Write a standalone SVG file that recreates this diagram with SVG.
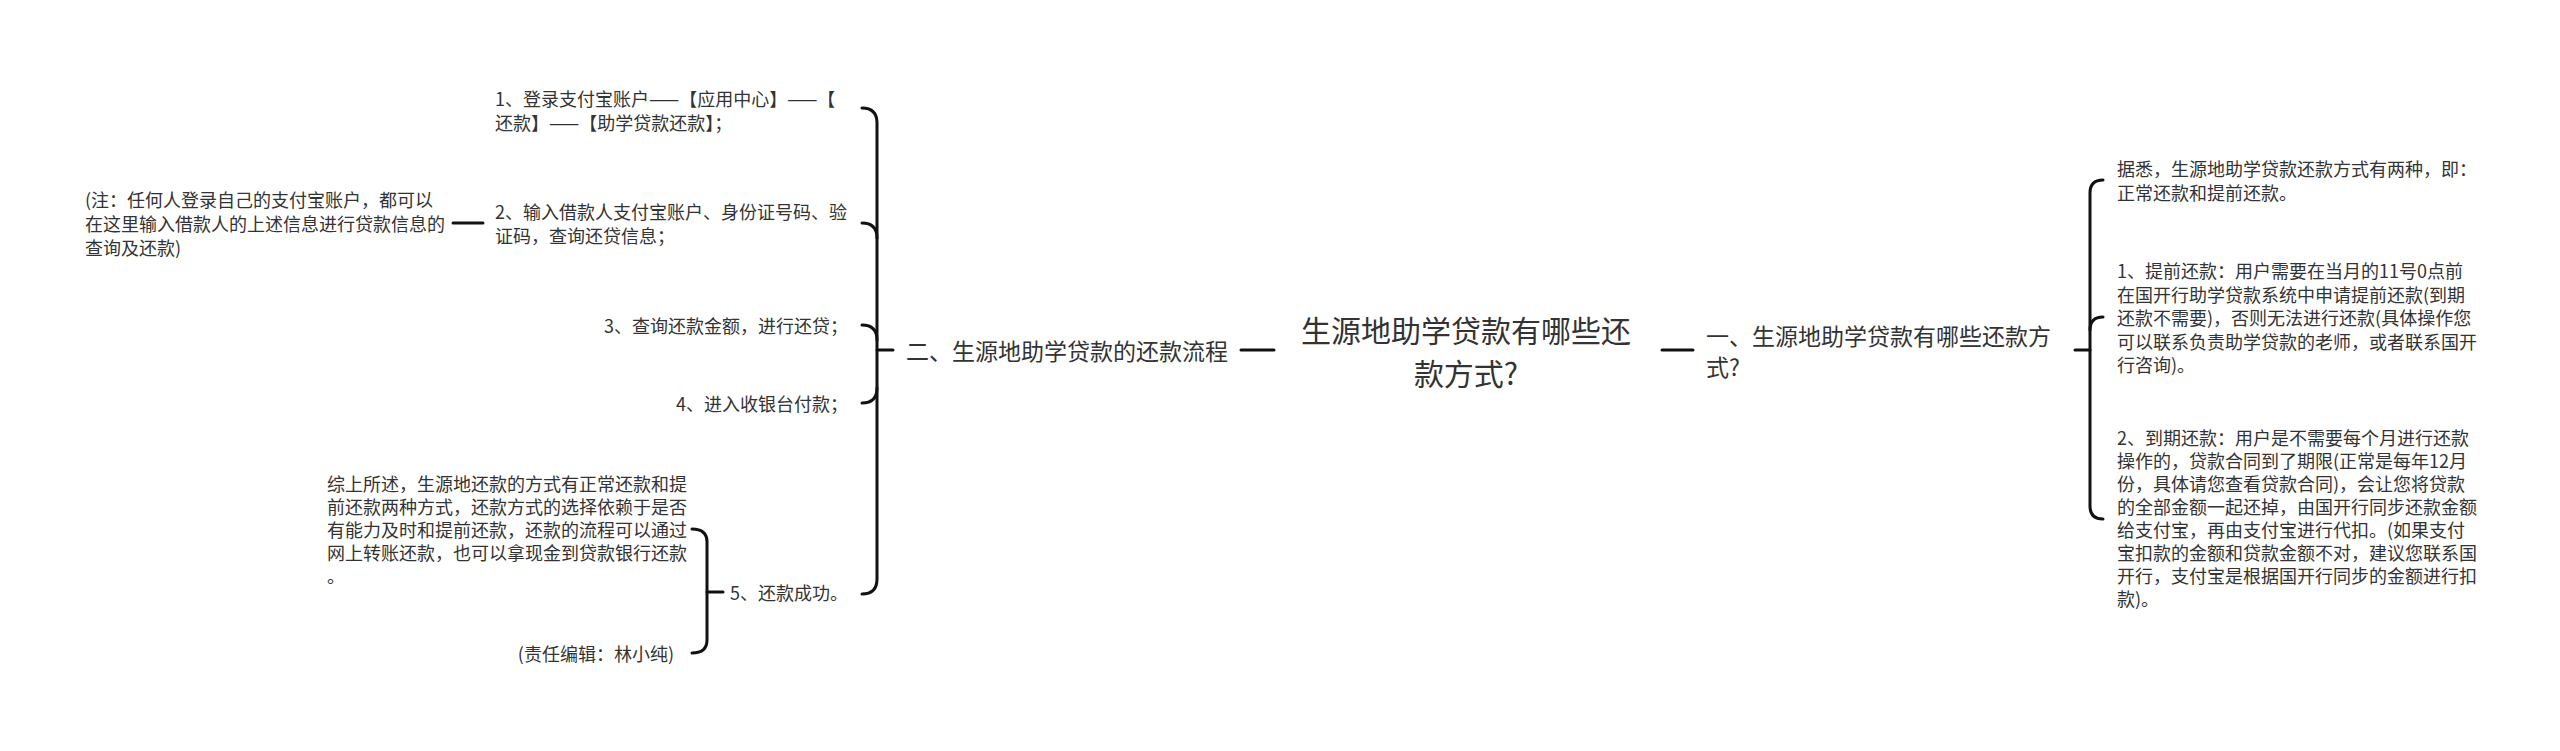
<svg xmlns="http://www.w3.org/2000/svg" width="2560" height="751" viewBox="0 0 2560 751">
<style>
text{font-family:"Noto Sans CJK SC","Microsoft YaHei",sans-serif;fill:#333;dominant-baseline:central}
.t{font-size:18px}
.m{font-size:23px}
.c{font-size:30px}
.ln{fill:none;stroke:#111;stroke-width:3;stroke-linecap:round}
</style>
<rect width="2560" height="751" fill="#fff"/>
<g id="connectors">
<path class="ln" d="M1241,350H1274"/>
<path class="ln" d="M1662,350H1693"/>
<path class="ln" d="M893,350H877"/>
<path class="ln" d="M862,108Q877,108 877,123V579Q877,594 862,594"/>
<path class="ln" d="M862,223Q877,223 877,238"/>
<path class="ln" d="M862,325Q877,325 877,340"/>
<path class="ln" d="M862,403Q877,403 877,388"/>
<path class="ln" d="M453,223H483"/>
<path class="ln" d="M723,592H707"/>
<path class="ln" d="M692,529Q707,529 707,542V640Q707,653 692,653"/>
<path class="ln" d="M2075,350H2090"/>
<path class="ln" d="M2103,180Q2090,180 2090,193V506Q2090,519 2103,519"/>
<path class="ln" d="M2103,317Q2090,317 2090,330"/>
</g>
<g id="center">
<text class="c" x="1466" y="329" text-anchor="middle">生源地助学贷款有哪些还</text>
<text class="c" x="1466" y="372" text-anchor="middle">款方式?</text>
</g>
<g id="left-main">
<text class="m" x="906" y="350">二、生源地助学贷款的还款流程</text>
</g>
<g id="right-main">
<text class="m" x="1706" y="335">一、生源地助学贷款有哪些还款方</text>
<text class="m" x="1706" y="366">式?</text>
</g>
<g id="step1">
<text class="t" x="495" y="98">1、登录支付宝账户——【应用中心】——【</text>
<text class="t" x="495" y="122">还款】——【助学贷款还款】；</text>
</g>
<g id="step2">
<text class="t" x="495" y="211">2、输入借款人支付宝账户、身份证号码、验</text>
<text class="t" x="495" y="235">证码，查询还贷信息；</text>
</g>
<g id="note">
<text class="t" x="85" y="199">(注：任何人登录自己的支付宝账户，都可以</text>
<text class="t" x="85" y="223">在这里输入借款人的上述信息进行贷款信息的</text>
<text class="t" x="85" y="247">查询及还款)</text>
</g>
<g id="step3">
<text class="t" x="848" y="325" text-anchor="end">3、查询还款金额，进行还贷；</text>
</g>
<g id="step4">
<text class="t" x="848" y="403" text-anchor="end">4、进入收银台付款；</text>
</g>
<g id="step5">
<text class="t" x="848" y="592" text-anchor="end">5、还款成功。</text>
</g>
<g id="summary">
<text class="t" x="327" y="483">综上所述，生源地还款的方式有正常还款和提</text>
<text class="t" x="327" y="506">前还款两种方式，还款方式的选择依赖于是否</text>
<text class="t" x="327" y="529">有能力及时和提前还款，还款的流程可以通过</text>
<text class="t" x="327" y="552">网上转账还款，也可以拿现金到贷款银行还款</text>
<text class="t" x="327" y="575">。</text>
</g>
<g id="editor">
<text class="t" x="674" y="653" text-anchor="end">(责任编辑：林小纯)</text>
</g>
<g id="intro">
<text class="t" x="2117" y="168">据悉，生源地助学贷款还款方式有两种，即：</text>
<text class="t" x="2117" y="192">正常还款和提前还款。</text>
</g>
<g id="early">
<text class="t" x="2117" y="270">1、提前还款：用户需要在当月的11号0点前</text>
<text class="t" x="2117" y="293.5">在国开行助学贷款系统中申请提前还款(到期</text>
<text class="t" x="2117" y="317">还款不需要)，否则无法进行还款(具体操作您</text>
<text class="t" x="2117" y="340.5">可以联系负责助学贷款的老师，或者联系国开</text>
<text class="t" x="2117" y="364">行咨询)。</text>
</g>
<g id="due">
<text class="t" x="2117" y="437">2、到期还款：用户是不需要每个月进行还款</text>
<text class="t" x="2117" y="460">操作的，贷款合同到了期限(正常是每年12月</text>
<text class="t" x="2117" y="483">份，具体请您查看贷款合同)，会让您将贷款</text>
<text class="t" x="2117" y="506">的全部金额一起还掉，由国开行同步还款金额</text>
<text class="t" x="2117" y="529">给支付宝，再由支付宝进行代扣。(如果支付</text>
<text class="t" x="2117" y="552">宝扣款的金额和贷款金额不对，建议您联系国</text>
<text class="t" x="2117" y="575">开行，支付宝是根据国开行同步的金额进行扣</text>
<text class="t" x="2117" y="598">款)。</text>
</g>
</svg>
